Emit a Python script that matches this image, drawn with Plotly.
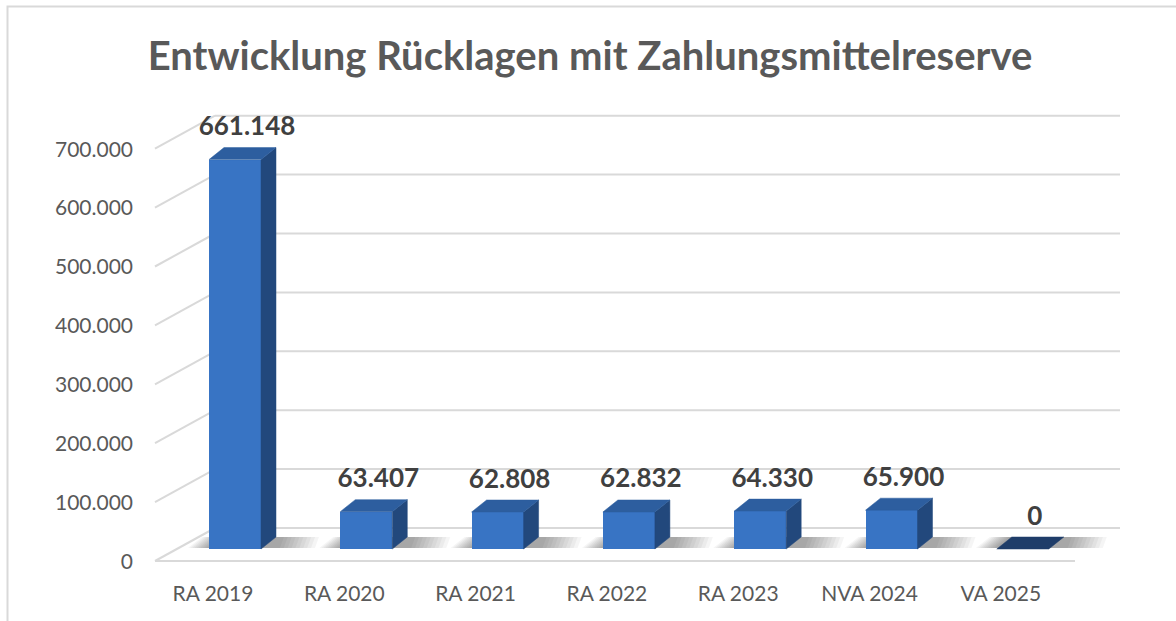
import plotly.graph_objects as go

# ---------------- data ----------------
categories = ["RA 2019", "RA 2020", "RA 2021", "RA 2022", "RA 2023", "NVA 2024", "VA 2025"]
values = [661148, 63407, 62808, 62832, 64330, 65900, 0]
y_ticks = [0, 100000, 200000, 300000, 400000, 500000, 600000, 700000]
title_text = "Entwicklung Rücklagen mit Zahlungsmittelreserve"

# ---------------- geometry (pixels) ----------------
W, H = 1176, 621
BAR_X0 = 235.0      # pixel x of first bar centre
STEP = 131.3        # pixels per category
BASE_Y = 549.0      # pixel y of value 0 at bar plane
K = 0.000589        # pixels per value unit
BAR_W_PX = 52
DEPTH_DX, DEPTH_DY = 15, 12     # bar depth (px)
FRONT_DX, FRONT_DY = -22, 12    # bar plane -> front floor plane
BACK_DX, BACK_DY = 38, 21       # bar plane -> back wall

def ux(px):
    return (px - BAR_X0) / STEP

def dx(px):
    return px / STEP

def dy(px):
    return px / K

FRONT_COL = "#3874C4"
SIDE_COL = "#22487C"
TOP_COL = "#2D5E9F"
ZERO_TOP_COL = "#1F3D69"
GRID_COL = "#D9D9D9"
TXT = "#595959"

fig = go.Figure()

# ---------------- walls / gridlines (base subplot, drawn first) ----------------
gx, gy = [], []
x_front_left = ux(155)
x_back_left = ux(215)
x_back_right = ux(1120)
for v in y_ticks:
    gx += [x_back_left, x_back_right, None]
    gy += [v + dy(BACK_DY), v + dy(BACK_DY), None]
    gx += [x_front_left, x_back_left, None]
    gy += [v - dy(FRONT_DY), v + dy(BACK_DY), None]
gx += [x_front_left, ux(1075), None]
gy += [-dy(FRONT_DY), -dy(FRONT_DY), None]
fig.add_trace(go.Scatter(x=gx, y=gy, mode="lines",
                         line=dict(color=GRID_COL, width=2),
                         hoverinfo="skip", showlegend=False))

# ---------------- soft floor shadows ----------------
half = dx(BAR_W_PX) / 2
for s in range(10, 0, -1):
    spread = s * 3
    sx, sy = [], []
    for i, v in enumerate(values):
        x0 = i - half - dx(spread * 0.7)
        x1 = i + half + dx(DEPTH_DX + spread * 1.3)
        sx += [x0, x1, x1 + dx(4), x0 + dx(14), x0, None]
        sy += [dy(1), dy(1), dy(DEPTH_DY), dy(DEPTH_DY), dy(1), None]
    fig.add_trace(go.Scatter(x=sx, y=sy, mode="lines", fill="toself",
                             fillcolor="rgba(0,0,0,0.04)",
                             line=dict(width=0), hoverinfo="skip",
                             showlegend=False))

# ---------------- bars: front face (overlay subplot above grid) ----------------
idx = list(range(len(categories)))
fig.add_trace(go.Bar(x=idx, y=values, width=dx(BAR_W_PX), xaxis="x3", yaxis="y3",
                     marker=dict(color=FRONT_COL, line=dict(width=0)),
                     hoverinfo="skip", showlegend=False))

# ---------------- bars: side faces ----------------
for i, v in enumerate(values):
    if v <= 0:
        continue
    xr = i + half
    fig.add_trace(go.Scatter(
        x=[xr, xr, xr + dx(DEPTH_DX), xr + dx(DEPTH_DX), xr],
        y=[0, v, v + dy(DEPTH_DY), dy(DEPTH_DY), 0],
        xaxis="x3", yaxis="y3",
        mode="lines", fill="toself", fillcolor=SIDE_COL,
        line=dict(width=0.5, color=SIDE_COL), hoverinfo="skip", showlegend=False))

# ---------------- bars: top faces ----------------
for i, v in enumerate(values):
    xl, xr = i - half, i + half
    col = TOP_COL if v > 0 else ZERO_TOP_COL
    fig.add_trace(go.Scatter(
        x=[xl, xr, xr + dx(DEPTH_DX), xl + dx(DEPTH_DX), xl],
        y=[v, v, v + dy(DEPTH_DY), v + dy(DEPTH_DY), v],
        xaxis="x3", yaxis="y3",
        mode="lines", fill="toself", fillcolor=col,
        line=dict(width=0.5, color=col), hoverinfo="skip", showlegend=False))

# ---------------- data labels ----------------
fig.add_trace(go.Scatter(
    x=[i + dx(12) for i in idx],
    y=[v + dy(31) for v in values],
    customdata=values, xaxis="x3", yaxis="y3",
    mode="text", texttemplate="%{customdata:,.0f}",
    textposition="middle center",
    textfont=dict(family="Lato", size=26, color="#404040", weight="bold"),
    hoverinfo="skip", showlegend=False))

# invisible anchors for the label axes
fig.add_trace(go.Scatter(x=[0], y=[0], xaxis="x2", yaxis="y", mode="markers",
                         marker=dict(opacity=0), hoverinfo="skip", showlegend=False))
fig.add_trace(go.Scatter(x=[0], y=[0], xaxis="x", yaxis="y2", mode="markers",
                         marker=dict(opacity=0), hoverinfo="skip", showlegend=False))

FRONT_ZERO_PX = BASE_Y + FRONT_DY + 0.5
LABEL_X0 = BAR_X0 + FRONT_DX
XR = [ux(0), ux(W)]
YR = [-(H - BASE_Y) / K, BASE_Y / K]

fig.update_layout(
    width=W, height=H,
    margin=dict(l=0, r=0, t=0, b=0),
    paper_bgcolor="white", plot_bgcolor="white",
    separators=",.",
    bargap=0,
    title=dict(text=title_text, x=590 / W, xanchor="center",
               y=1 - 56 / H, yanchor="middle",
               font=dict(family="Lato", size=40, color=TXT, weight="bold")),
    xaxis=dict(domain=[0, 1], range=XR, visible=False, fixedrange=True),
    yaxis=dict(domain=[0, 1], range=YR, visible=False, fixedrange=True),
    xaxis3=dict(overlaying="x", anchor="y3", range=XR, visible=False, fixedrange=True),
    yaxis3=dict(overlaying="y", anchor="x3", range=YR, visible=False, fixedrange=True),
    xaxis2=dict(overlaying="x", anchor="free", position=(H - 579) / H,
                range=[(0 - LABEL_X0) / STEP, (W - LABEL_X0) / STEP],
                tickmode="array", tickvals=idx, ticktext=categories,
                showgrid=False, zeroline=False, showline=False, ticks="",
                tickfont=dict(family="Lato", size=21, color=TXT)),
    yaxis2=dict(overlaying="y", anchor="free", position=133 / W, side="left",
                range=[-(H - FRONT_ZERO_PX) / K, FRONT_ZERO_PX / K],
                tickmode="array", tickvals=y_ticks, tickformat=",.0f",
                showgrid=False, zeroline=False, showline=False, ticks="",
                tickfont=dict(family="Lato", size=21, color=TXT)),
    shapes=[dict(type="rect", xref="paper", yref="paper",
                 x0=7.5 / W, x1=1.05, y0=-0.05, y1=1 - 6.5 / H,
                 line=dict(color="#D9D9D9", width=2), layer="below")],
)

fig.write_html("out.html")
